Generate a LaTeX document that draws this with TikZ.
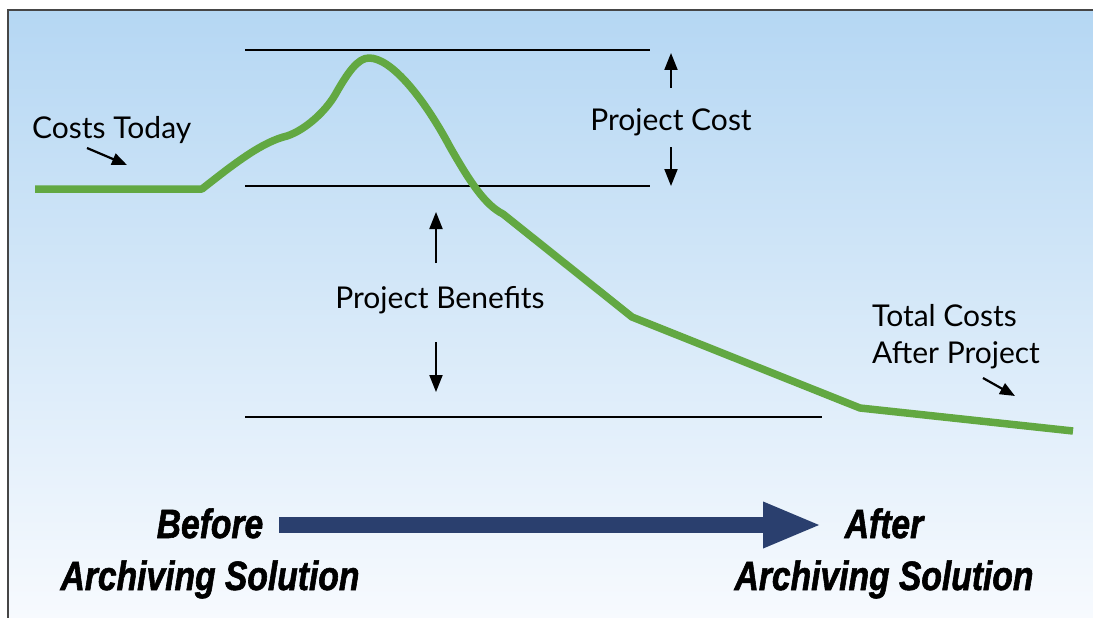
\documentclass[tikz,border=0pt]{standalone}
\usepackage{fontspec}
\setmainfont{Lato}
\newfontfamily\heavyfont[FakeStretch=0.82, FakeBold=1.4]{Liberation Sans}
\usetikzlibrary{arrows.meta}

\definecolor{skytop}{RGB}{181,215,243}
\definecolor{skybottom}{RGB}{247,250,254}
\definecolor{costgreen}{RGB}{98,168,66}
\definecolor{timeline}{RGB}{42,63,110}
\definecolor{framegray}{RGB}{70,70,70}

\begin{document}
\begin{tikzpicture}[x=1pt, y=-1pt,
  every node/.style={inner sep=0pt, font=\fontsize{30}{37}\selectfont},
  level/.style={line width=2pt},
  pointer/.style={line width=2pt, -{Triangle[width=13pt,length=17pt]}},
  small pointer/.style={line width=2.2pt, -{Triangle[width=12pt,length=15pt]}},
  tag/.style={align=center, font=\heavyfont\bfseries\itshape\fontsize{41}{52}\selectfont}]
\useasboundingbox (0,0) rectangle (1093,618);

% panel
\shade[top color=skytop, bottom color=skybottom] (8,10) rectangle (1093,618);
\draw[framegray, line width=2pt] (8,618) -- (8,10) -- (1093,10);

% reference levels
\coordinate (peak l) at (245,50);   \coordinate (peak r) at (650,50);
\coordinate (today l) at (245,186); \coordinate (today r) at (650,186);
\coordinate (after l) at (245,417); \coordinate (after r) at (822,417);
\draw[level] (peak l) -- (peak r);
\draw[level] (today l) -- (today r);
\draw[level] (after l) -- (after r);

% cost curve
\draw[costgreen, line width=7.5pt, line join=round]
  (35,189) -- (202,189)
  .. controls (235,163) and (262,142) .. (287,136)
  .. controls (305,130) and (325,112) .. (335,95)
  .. controls (348,72) and (358,58) .. (369,58)
  .. controls (392,58) and (425,100) .. (450,147)
  .. controls (470,182) and (485,205) .. (503,214)
  -- (632,317) -- (860,408) -- (1073,431);

% labels
\node[anchor=base west] (today) at (32,138) {Costs Today};
\node[anchor=base] (pcost) at (671,130) {Project Cost};
\node[anchor=base] (pbenefit) at (440,308) {Project Benefits};
\node[anchor=base west, align=left] (total) at (872,363) {Total Costs\\After Project};

% dimension arrows
\coordinate (cost up) at (671,88);    \coordinate (cost top) at (671,53);
\coordinate (cost down) at (671,147); \coordinate (cost bot) at (671,186);
\coordinate (ben up) at (436,263);    \coordinate (ben top) at (436,212);
\coordinate (ben down) at (436,342);  \coordinate (ben bot) at (436,392);
\draw[pointer] (cost up) -- (cost top);
\draw[pointer] (cost down) -- (cost bot);
\draw[pointer] (ben up) -- (ben top);
\draw[pointer] (ben down) -- (ben bot);

% callouts
\coordinate (today tail) at (87,148); \coordinate (today tip) at (127,165);
\coordinate (total tail) at (983,378); \coordinate (total tip) at (1015,396);
\draw[small pointer] (today tail) -- (today tip);
\draw[small pointer] (total tail) -- (total tip);

% time line
\node[tag, anchor=base] (before) at (210,590) {Before\\Archiving Solution};
\node[tag, anchor=base] (afterwards) at (884,590) {After\\Archiving Solution};
\coordinate (start) at (279,525);
\coordinate (finish) at (822,525);
\draw[timeline, line width=16pt, -{Triangle[width=42pt,length=59pt]}] (start) -- (finish);
\end{tikzpicture}
\end{document}
